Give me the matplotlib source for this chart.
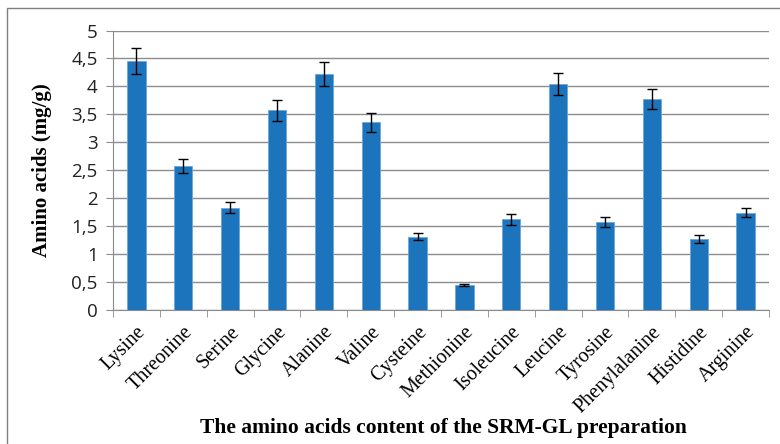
import numpy as np
import matplotlib
matplotlib.use("Agg")
import matplotlib.pyplot as plt
from matplotlib.patches import Rectangle

acids = ["Lysine", "Threonine", "Serine", "Glycine", "Alanine", "Valine",
         "Cysteine", "Methionine", "Isoleucine", "Leucine", "Tyrosine",
         "Phenylalanine", "Histidine", "Arginine"]
values = [4.45, 2.58, 1.83, 3.57, 4.22, 3.36, 1.31, 0.45, 1.62, 4.04, 1.57, 3.78, 1.27, 1.74]
errors = [0.23, 0.13, 0.10, 0.19, 0.22, 0.17, 0.06, 0.02, 0.10, 0.20, 0.09, 0.18, 0.07, 0.08]
yticks = [0, 0.5, 1, 1.5, 2, 2.5, 3, 3.5, 4, 4.5, 5]

fig = plt.figure(figsize=(7.8, 4.44), dpi=100)
ax = fig.add_axes([113 / 780, 1 - 310 / 444, 656 / 780, 279.5 / 444])

x = np.arange(len(acids))
ax.bar(x, values, width=0.39, color="#1c74bc", edgecolor="#6fa6d6", linewidth=0.6, zorder=3)
ax.errorbar(x, values, yerr=errors, fmt="none", ecolor="black", elinewidth=1,
            capsize=3.3, capthick=1, zorder=4)

ax.set_xlim(-0.5, len(acids) - 0.5)
ax.set_ylim(0, 5)
ax.set_yticks(yticks)
ax.set_yticklabels([("%g" % t).replace(".", ",") for t in yticks],
                   fontsize=13.5, family="Open Sans", color="#222222")
ax.yaxis.grid(True, color="#8c8c8c", linewidth=1)
ax.set_axisbelow(True)

ax.set_xticks(x)
ax.set_xticklabels(acids, rotation=45, ha="right", rotation_mode="anchor",
                   fontsize=14.5, family="Liberation Serif")
ax.set_xticks(np.arange(len(acids) + 1) - 0.5, minor=True)
ax.tick_params(axis="x", which="major", length=0, pad=9)
ax.tick_params(axis="x", which="minor", length=5, color="#8c8c8c")
ax.tick_params(axis="y", length=5, color="#8c8c8c", pad=6)

for s in ["top", "right"]:
    ax.spines[s].set_visible(False)
ax.spines["left"].set_color("#8c8c8c")
ax.spines["bottom"].set_color("#8c8c8c")

ax.set_ylabel("Amino acids (mg/g)", fontsize=15, fontweight="bold",
              family="Liberation Serif", labelpad=14)
fig.text(443 / 780, 1 - 428 / 444, "The amino acids content of the SRM-GL preparation",
         ha="center", va="center", fontsize=15.5, fontweight="bold", family="Liberation Serif")

fig.patches.append(Rectangle((7 / 780, -0.1), 1.2, 1 - 8 / 444 + 0.1,
                             transform=fig.transFigure, fill=False,
                             edgecolor="#7f7f7f", linewidth=1))

fig.savefig("out.png", dpi=100)
